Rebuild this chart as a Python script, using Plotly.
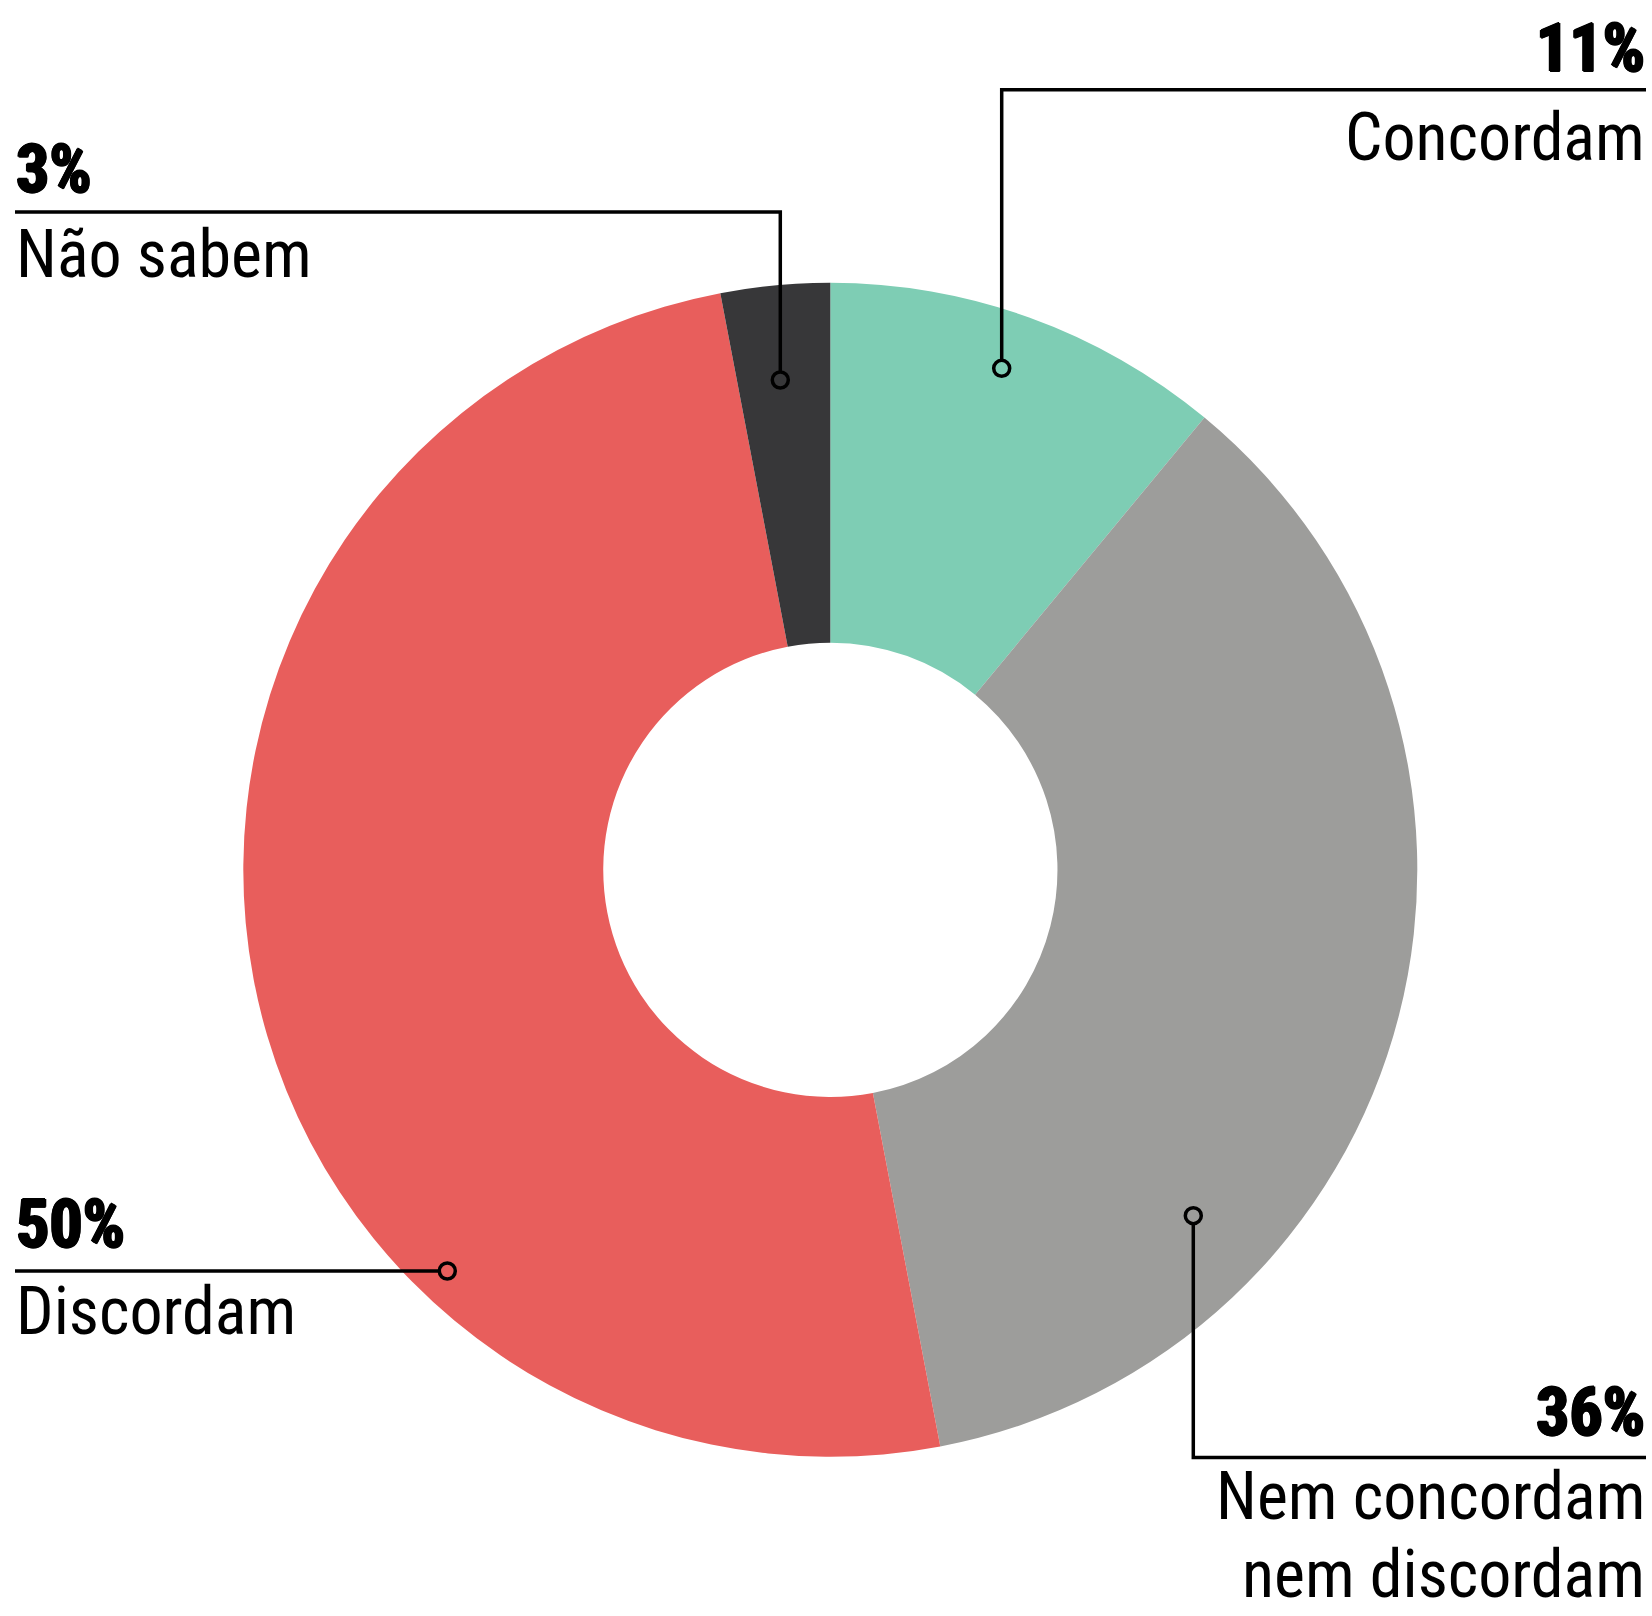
import plotly.graph_objects as go

# Survey answers, clockwise from 12 o'clock
labels = ["Concordam", "Nem concordam<br>nem discordam", "Discordam", "Não sabem"]
values = [11, 36, 50, 3]
colors = ["#7ECDB4", "#9D9D9B", "#E85E5C", "#373739"]

W, H = 1652, 1616
FONT = "Roboto Condensed, Roboto, Liberation Sans Narrow, sans-serif"
SIZE = 66
INK = "#000000"
# thicken the bold figures a little beyond the font's 700 weight
HEAVY = ", ".join(f"{dx}px {dy}px 0 {INK}" for dx, dy in
                  [(1.2, 0), (-1.2, 0), (0, 0.6), (0, -0.6), (0.8, 0.5), (-0.8, -0.5)])

fig = go.Figure()

# Donut (centre ~ (830, 870) px, outer radius ~587 px)
cx, cy, r = 830.3, 869.8, 587.0
fig.add_trace(go.Pie(
    labels=labels,
    values=values,
    marker=dict(colors=colors, line=dict(width=0)),
    hole=0.387,
    sort=False,
    direction="clockwise",
    rotation=0,
    textinfo="none",
    hoverinfo="label+percent",
    showlegend=False,
    domain=dict(x=[(cx - r) / W, (cx + r) / W],
                y=[1 - (cy + r) / H, 1 - (cy - r) / H]),
))

# Callout layout in pixel units: text side, baselines, leader path ending at the dot
callouts = [
    dict(i=0, side="right", xt=1646, pct_base=70.7, lab_base=160.0, gap=84.7,
         path=[(1646, 89.7), (1001.7, 89.7), (1001.7, 368.3)]),
    dict(i=1, side="right", xt=1646, pct_base=1435.0, lab_base=1519.0, gap=78.0,
         path=[(1646, 1457.5), (1193.3, 1457.5), (1193.3, 1215.7)]),
    dict(i=2, side="left", xt=15, pct_base=1246.7, lab_base=1334.0, gap=84.7,
         path=[(15, 1271.0), (447.3, 1271.0)]),
    dict(i=3, side="left", xt=15, pct_base=191.7, lab_base=276.7, gap=84.7,
         path=[(15, 212.0), (780.3, 212.0), (780.3, 380.0)]),
]

DOT_R = 8.0
ASC_SHIFT = 0.342  # baseline -> text-box centre, in em

shapes = []
annotations = []
for c in callouts:
    i = c["i"]
    pts = c["path"]
    path = "M " + " L ".join(f"{x},{y}" for x, y in pts)
    shapes.append(dict(type="path", path=path, xref="x", yref="y",
                       line=dict(color=INK, width=3.5), layer="above"))
    dx, dy = pts[-1]
    shapes.append(dict(type="circle", xref="x", yref="y",
                       x0=dx - DOT_R, x1=dx + DOT_R, y0=dy - DOT_R, y1=dy + DOT_R,
                       fillcolor=colors[i], line=dict(color=INK, width=3.5), layer="above"))

    anchor = "right" if c["side"] == "right" else "left"
    annotations.append(dict(
        x=c["xt"], y=c["pct_base"] - ASC_SHIFT * SIZE, xref="x", yref="y",
        xanchor=anchor, yanchor="middle", showarrow=False, borderpad=0,
        text=f"<b>{values[i]}%</b>",
        font=dict(family=FONT, size=SIZE, color=INK, weight=900, shadow=HEAVY)))
    for k, line in enumerate(labels[i].split("<br>")):
        base = c["lab_base"] + k * c["gap"]
        annotations.append(dict(
            x=c["xt"], y=base - ASC_SHIFT * SIZE, xref="x", yref="y",
            xanchor=anchor, yanchor="middle", showarrow=False, borderpad=0,
            align=anchor, text=line,
            font=dict(family=FONT, size=SIZE, color=INK)))

fig.update_layout(
    width=W, height=H,
    margin=dict(l=0, r=0, t=0, b=0),
    paper_bgcolor="white", plot_bgcolor="white",
    xaxis=dict(range=[0, W], visible=False, fixedrange=True),
    yaxis=dict(range=[H, 0], visible=False, fixedrange=True),
    shapes=shapes,
    annotations=annotations,
    showlegend=False,
)

fig.write_html("out.html")
